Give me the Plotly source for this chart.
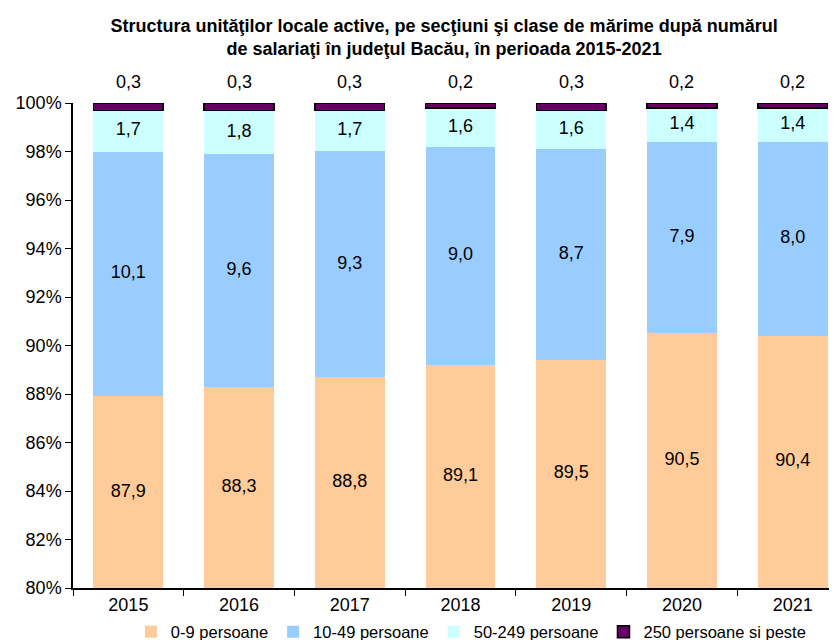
import numpy as np
import plotly.graph_objects as go

years = ["2015", "2016", "2017", "2018", "2019", "2020", "2021"]
s_0_9 = [87.9, 88.3, 88.8, 89.1, 89.5, 90.5, 90.4]
s_10_49 = [10.1, 9.6, 9.3, 9.0, 8.7, 7.9, 8.0]
s_50_249 = [1.7, 1.8, 1.7, 1.6, 1.6, 1.4, 1.4]
s_250 = [0.3, 0.3, 0.3, 0.2, 0.3, 0.2, 0.2]
series_names = ["0-9 persoane", "10-49 persoane", "50-249 persoane", "250 persoane si peste"]
colors = ["#FFCC99", "#99CCFF", "#CCFFFF", "#660066"]
title = ("<b>Structura unităţilor locale active, pe secţiuni şi clase de mărime după numărul<br>"
         "de salariaţi în judeţul Bacău, în perioada 2015-2021</b>")

FONT = "Liberation Sans, Arial, sans-serif"
series = [s_0_9, s_10_49, s_50_249, s_250]
arr = np.array(series, dtype=float)
pct = arr / arr.sum(axis=0) * 100
cum = np.cumsum(pct, axis=0)
YMIN, YMAX = 80, 100

def fmt(v):
    return f"{v:.1f}".replace(".", ",")

fig = go.Figure()
for i, (name, vals, col) in enumerate(zip(series_names, series, colors)):
    fig.add_trace(go.Bar(
        x=years, y=vals, name=name,
        marker=dict(color=col,
                    line=dict(color="black", width=1.5 if i == 3 else 0)),
        width=0.63,
    ))

# in-bar labels for the first three series (centred in the visible part)
for i in range(3):
    lo = np.maximum(cum[i] - pct[i], YMIN)
    hi = cum[i]
    fig.add_trace(go.Scatter(
        x=years, y=(lo + hi) / 2, mode="text",
        text=[fmt(v) for v in series[i]],
        textfont=dict(family=FONT, size=18, color="black"),
        showlegend=False, cliponaxis=False, hoverinfo="skip",
    ))

# labels for the top series, above the bars (category index positions)
for idx, v in enumerate(series[3]):
    fig.add_annotation(x=idx, xref="x", y=1, yref="paper", yanchor="middle",
                       text=fmt(v), showarrow=False, yshift=21,
                       font=dict(family=FONT, size=18, color="black"))

fig.update_layout(
    width=837, height=640,
    barmode="stack", barnorm="percent",
    plot_bgcolor="white", paper_bgcolor="white",
    margin=dict(l=65, r=8, t=95, b=60, autoexpand=False),
    title=dict(text=title, x=0.521, xanchor="center", xref="container",
               y=1 - 23.5 / 640, yanchor="middle", yref="container",
               font=dict(family=FONT, size=18, color="black")),
    font=dict(family=FONT, color="black"),
    legend=dict(orientation="h", x=0.553, xanchor="center", xref="container",
                y=1 - 624 / 640, yanchor="middle", yref="container",
                font=dict(family=FONT, size=16.5), traceorder="normal",
                itemwidth=30, tracegroupgap=0),
    xaxis=dict(type="category", range=[-0.5, 6.4], showline=True, linecolor="black",
               linewidth=1.5, ticks="outside", tickson="boundaries", ticklen=6,
               tickcolor="black", tickfont=dict(family=FONT, size=18), showgrid=False,
               automargin=False),
    yaxis=dict(range=[YMIN, YMAX], dtick=2, ticksuffix="%", showline=True,
               linecolor="black", linewidth=1.5, ticks="outside", ticklen=6,
               tickcolor="black", tickfont=dict(family=FONT, size=18), showgrid=False,
               zeroline=False, automargin=False),
)

fig.write_html("out.html")
